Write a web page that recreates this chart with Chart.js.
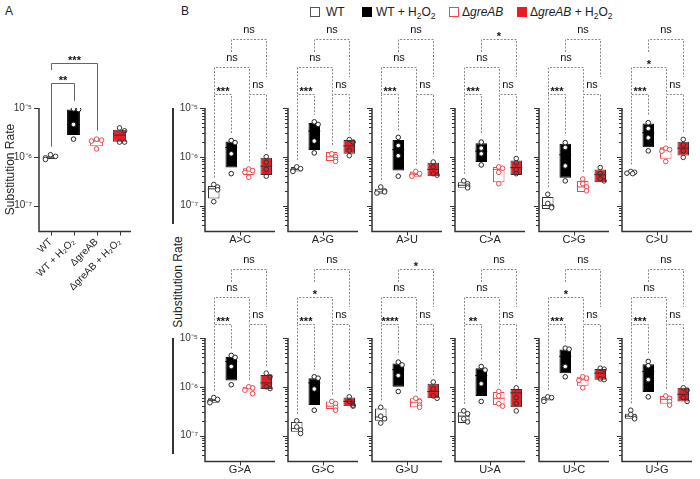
<!DOCTYPE html>
<html><head><meta charset="utf-8">
<script src="https://cdn.jsdelivr.net/npm/chart.js@4.4.1/dist/chart.umd.min.js"></script>
<style>
html,body{margin:0;padding:0;background:#fff}
body{width:700px;height:479px;position:relative;overflow:hidden;font-family:"Liberation Sans",Arial,Helvetica,sans-serif;color:#222}
canvas{position:absolute}
.t{position:absolute;white-space:nowrap;line-height:1;font-size:12px}
.sq{position:absolute;width:10px;height:10px;box-sizing:border-box}
.sb{font-size:8.5px;position:relative;top:3px}
.vbar{position:absolute;left:172px;width:2px;background:#333}
</style></head><body>
<div class="t" style="left:5px;top:5px">A</div>
<div class="t" style="left:181px;top:5px">B</div>
<div class="sq" style="left:310px;top:7px;border:1px solid #555;background:#fff"></div>
<div class="t" style="left:326px;top:6px">WT</div>
<div class="sq" style="left:362px;top:7px;background:#000"></div>
<div class="t" style="left:376px;top:6px">WT + H<span class="sb">2</span>O<span class="sb">2</span></div>
<div class="sq" style="left:449px;top:7px;border:1px solid #f0444b;background:#fff"></div>
<div class="t" style="left:462px;top:6px">Δ<i>greAB</i></div>
<div class="sq" style="left:517px;top:7px;background:#ec1c24"></div>
<div class="t" style="left:530px;top:6px">Δ<i>greAB</i> + H<span class="sb">2</span>O<span class="sb">2</span></div>
<div class="t" style="left:178px;top:282px;transform:translate(-50%,-50%) rotate(-90deg)">Substitution Rate</div>
<div class="vbar" style="top:108px;height:116px"></div>
<div class="vbar" style="top:338px;height:116px"></div>
<script>
// ---------------- DATA ----------------
const GROUPS = ['WT', 'WT + H₂O₂', 'ΔgreAB', 'ΔgreAB + H₂O₂'];
const SUBSTITUTIONS = ['A>C','A>G','A>U','C>A','C>G','C>U','G>A','G>C','G>U','U>A','U>C','U>G'];
const Y_TICK_VALUES = [1e-7, 1e-6, 1e-5];
const Y_TICK_LABELS = ['10⁻⁷', '10⁻⁶', '10⁻⁵'];

// Panel A: total substitution rate
const totalPoints = [
  [1.10e-6, 1.02e-6, 0.95e-6, 0.88e-6],
  [9.6e-6, 9.3e-6, 4.6e-6, 2.3e-6],
  [2.30e-6, 2.20e-6, 2.10e-6, 1.45e-6],
  [3.9e-6, 3.4e-6, 2.0e-6, 2.0e-6]
];
const totalBox = [[0.90e-6, 1.05e-6], [2.8e-6, 9.3e-6], [1.65e-6, 2.35e-6], [2.04e-6, 3.6e-6]];
const totalMedian = [0.98e-6, 4.6e-6, 2.1e-6, 2.78e-6];
const totalSig = ['**', '***'];

// Panel B: per substitution type
const wtPoints = [
  [0.27e-6,0.24e-6,0.21e-6,0.12e-6],[0.62e-6,0.57e-6,0.53e-6,0.50e-6],[0.24e-6,0.20e-6,0.19e-6,0.18e-6],
  [0.32e-6,0.28e-6,0.25e-6,0.23e-6],[0.17e-6,0.11e-6,0.095e-6,0.09e-6],[0.50e-6,0.48e-6,0.46e-6,0.45e-6],
  [0.60e-6,0.55e-6,0.50e-6,0.47e-6],[0.20e-6,0.15e-6,0.13e-6,0.11e-6],[0.38e-6,0.25e-6,0.22e-6,0.18e-6],
  [0.32e-6,0.28e-6,0.22e-6,0.19e-6],[0.62e-6,0.60e-6,0.55e-6,0.50e-6],[0.33e-6,0.27e-6,0.24e-6,0.22e-6]
];
const wtBox = [
  [0.14e-6,0.25e-6],[0.50e-6,0.62e-6],[0.17e-6,0.22e-6],[0.23e-6,0.30e-6],[0.085e-6,0.15e-6],[0.44e-6,0.50e-6],
  [0.47e-6,0.58e-6],[0.12e-6,0.19e-6],[0.20e-6,0.36e-6],[0.18e-6,0.30e-6],[0.52e-6,0.62e-6],[0.22e-6,0.28e-6]
];
const wtMedian = [0.22e-6,0.55e-6,0.19e-6,0.26e-6,0.10e-6,0.47e-6,0.52e-6,0.14e-6,0.24e-6,0.25e-6,0.58e-6,0.25e-6];

const h2o2Points = [
  [2.15e-6,1.95e-6,1.15e-6,0.45e-6],[5.2e-6,4.6e-6,2.1e-6,1.2e-6],[2.5e-6,1.7e-6,1.05e-6,0.40e-6],
  [2.0e-6,1.5e-6,1.15e-6,0.68e-6],[1.95e-6,1.55e-6,0.65e-6,0.32e-6],[5.0e-6,3.8e-6,2.45e-6,1.32e-6],
  [4.4e-6,4.0e-6,2.6e-6,1.1e-6],[1.6e-6,1.5e-6,0.9e-6,0.33e-6],[3.2e-6,2.8e-6,1.7e-6,0.8e-6],
  [2.6e-6,2.2e-6,1.15e-6,0.5e-6],[6.2e-6,5.9e-6,2.6e-6,1.6e-6],[3.3e-6,2.7e-6,1.4e-6,0.62e-6]
];
const h2o2Box = [
  [0.60e-6,2.05e-6],[1.38e-6,4.9e-6],[0.52e-6,2.2e-6],[0.78e-6,1.9e-6],[0.37e-6,1.85e-6],[1.57e-6,4.8e-6],
  [1.35e-6,4.1e-6],[0.42e-6,1.5e-6],[1.0e-6,3.0e-6],[0.65e-6,2.4e-6],[1.9e-6,5.8e-6],[0.78e-6,2.9e-6]
];
const h2o2Median = [1.55e-6,3.35e-6,1.4e-6,1.3e-6,1.1e-6,3.1e-6,3.3e-6,1.2e-6,2.25e-6,1.7e-6,4.2e-6,2.05e-6];

const greABPoints = [
  [0.56e-6,0.52e-6,0.48e-6,0.38e-6],[1.15e-6,1.0e-6,0.88e-6,0.8e-6],[0.50e-6,0.45e-6,0.42e-6,0.40e-6],
  [0.62e-6,0.58e-6,0.48e-6,0.28e-6],[0.35e-6,0.28e-6,0.24e-6,0.20e-6],[1.5e-6,1.4e-6,1.3e-6,0.8e-6],
  [1.0e-6,0.95e-6,0.85e-6,0.72e-6],[0.50e-6,0.45e-6,0.38e-6,0.33e-6],[0.58e-6,0.50e-6,0.42e-6,0.38e-6],
  [0.80e-6,0.65e-6,0.45e-6,0.40e-6],[1.6e-6,1.5e-6,1.35e-6,0.95e-6],[0.65e-6,0.58e-6,0.50e-6,0.42e-6]
];
const greABBox = [
  [0.42e-6,0.58e-6],[0.82e-6,1.25e-6],[0.38e-6,0.50e-6],[0.30e-6,0.62e-6],[0.19e-6,0.32e-6],[0.91e-6,1.57e-6],
  [0.80e-6,1.0e-6],[0.35e-6,0.50e-6],[0.38e-6,0.58e-6],[0.42e-6,0.78e-6],[1.05e-6,1.6e-6],[0.45e-6,0.65e-6]
];
const greABMedian = [0.52e-6,1.0e-6,0.43e-6,0.55e-6,0.24e-6,1.45e-6,0.92e-6,0.40e-6,0.48e-6,0.58e-6,1.38e-6,0.55e-6];

const greABH2O2Points = [
  [1.0e-6,0.77e-6,0.55e-6,0.40e-6],[2.25e-6,2.0e-6,1.35e-6,1.05e-6],[0.78e-6,0.62e-6,0.45e-6,0.42e-6],
  [0.92e-6,0.75e-6,0.55e-6,0.45e-6],[0.60e-6,0.45e-6,0.35e-6,0.32e-6],[2.27e-6,1.75e-6,1.32e-6,0.97e-6],
  [1.9e-6,1.6e-6,1.0e-6,0.92e-6],[0.62e-6,0.50e-6,0.42e-6,0.40e-6],[1.25e-6,0.9e-6,0.65e-6,0.58e-6],
  [0.95e-6,0.60e-6,0.45e-6,0.32e-6],[2.4e-6,2.3e-6,1.45e-6,1.4e-6],[0.95e-6,0.85e-6,0.60e-6,0.50e-6]
];
const greABH2O2Box = [
  [0.42e-6,0.95e-6],[1.15e-6,2.2e-6],[0.40e-6,0.75e-6],[0.42e-6,0.84e-6],[0.30e-6,0.55e-6],[1.06e-6,2.04e-6],
  [0.90e-6,1.75e-6],[0.40e-6,0.60e-6],[0.58e-6,1.15e-6],[0.38e-6,0.90e-6],[1.4e-6,2.3e-6],[0.50e-6,0.95e-6]
];
const greABH2O2Median = [0.64e-6,1.67e-6,0.55e-6,0.60e-6,0.43e-6,1.5e-6,1.2e-6,0.50e-6,0.80e-6,0.75e-6,1.9e-6,0.70e-6];

const sigWTvsH2O2 = ['***','***','***','***','***','***','***','***','****','**','***','***'];
const sigGreABvsGreABH2O2 = ['ns','ns','ns','ns','ns','ns','ns','ns','ns','ns','ns','ns'];
const sigWTvsGreAB = ['ns','ns','ns','ns','ns','*','ns','*','ns','ns','*','ns'];
const sigH2O2vsGreABH2O2 = ['ns','ns','ns','*','ns','ns','ns','ns','*','ns','ns','ns'];

// ---------------- STYLE / LAYOUT ----------------
const FONT = '"Liberation Sans", Arial, Helvetica, sans-serif';
Chart.defaults.font.family = FONT;
const AXIS_COLOR = '#333333';
const AXIS_WIDTH = 1.5;
const STYLE = [
  {fill:'#ffffff', border:'#333333', pt:'#ffffff', ptBorder:'#333333', med:'#333333'},
  {fill:'#000000', border:'#000000', pt:'#ffffff', ptBorder:'#222222', med:'#000000'},
  {fill:'#ffffff', border:'#f0444b', pt:'#ffffff', ptBorder:'#f0444b', med:'#f0444b'},
  {fill:'#ec1c24', border:'#333333', pt:'rgba(0,0,0,0)', ptBorder:'#333333', med:'#333333'}
];
const Y_MIN = 3.3e-8, Y_MAX = 1e-5;
const MINOR_TICKS = [];
[1e-8, 1e-7, 1e-6].forEach(d => { for (let k = 2; k <= 9; k++) { const v = k * d; if (v > Y_MIN) MINOR_TICKS.push(v); } });
const isMajor = v => Y_TICK_VALUES.some(m => Math.abs(v / m - 1) < 1e-6);

const COL_X = [205, 288, 372, 455, 539, 622];
const ROW_TOP = [108, 338];

function spreadOffsets(vals) {
  const pattern = [0, 0.22, -0.22, 0.11];
  return vals.map((v, j) => {
    let k = 0;
    for (let i = 0; i < j; i++) if (Math.abs(Math.log10(vals[i] / v)) < 0.08) k++;
    return pattern[k];
  });
}

// axis lines and tick marks, placed from the chart's own scales
const axisPlugin = {
  id: 'axisMarks',
  beforeDatasetsDraw(chart) {
    const ctx = chart.ctx, {left, right, top, bottom} = chart.chartArea;
    const xs = chart.scales.x, ys = chart.scales.y;
    const L = Math.round(left), B = Math.round(bottom) + 0.5;
    ctx.save();
    ctx.strokeStyle = AXIS_COLOR; ctx.lineWidth = AXIS_WIDTH; ctx.setLineDash([]); ctx.lineCap = 'butt';
    ctx.beginPath();
    ctx.moveTo(L, Math.round(top)); ctx.lineTo(L, B);
    ctx.lineTo(Math.round(right), B);
    ctx.stroke();
    ctx.lineWidth = 1;
    ctx.beginPath();
    ys.ticks.forEach(t => {
      const yy = Math.round(ys.getPixelForValue(t.value)) + 0.5;
      const len = isMajor(t.value) ? 5 : 3;
      ctx.moveTo(L - len, yy); ctx.lineTo(L, yy);
    });
    xs.ticks.forEach(t => {
      const xx = Math.round(xs.getPixelForValue(t.value)) + 0.5;
      ctx.moveTo(xx, B); ctx.lineTo(xx, B + 4);
    });
    ctx.stroke();
    ctx.restore();
  }
};

const sigPlugin = {
  id: 'sig',
  afterDatasetsDraw(chart, args, o) {
    if (!o || !o.pairs) return;
    const ctx = chart.ctx, top = chart.chartArea.top;
    const xs = chart.scales.x, ys = chart.scales.y;
    const X = g => Math.round(xs.getPixelForValue(g)) + 0.5;
    const dataEnd = g => ys.getPixelForValue(o.tops[g]) - o.gap;
    ctx.save();
    ctx.lineWidth = 1; ctx.strokeStyle = o.color; ctx.setLineDash(o.dash);
    o.pairs.forEach(p => {
      const y = Math.round(top - p.h) + 0.5;
      const ya = p.endA === 'data' ? dataEnd(p.a) : top - p.endA;
      const yb = p.endB === 'data' ? dataEnd(p.b) : top - p.endB;
      const xa = X(p.a), xb = X(p.b);
      ctx.beginPath(); ctx.moveTo(xa, ya); ctx.lineTo(xa, y); ctx.lineTo(xb, y); ctx.lineTo(xb, yb); ctx.stroke();
    });
    ctx.setLineDash([]);
    ctx.fillStyle = '#111'; ctx.textAlign = 'center'; ctx.textBaseline = 'alphabetic';
    o.pairs.forEach(p => {
      const y = top - p.h, xm = (X(p.a) + X(p.b)) / 2;
      const star = p.text.indexOf('*') >= 0;
      ctx.font = (star ? 'bold ' : '') + '11px ' + FONT;
      ctx.fillText(p.text, xm, star ? y + 1 : y - 6);
    });
    ctx.restore();
  }
};

function addCanvas(left, top, w, h) {
  const c = document.createElement('canvas');
  c.width = w; c.height = h;
  c.style.left = left + 'px'; c.style.top = top + 'px';
  c.style.width = w + 'px'; c.style.height = h + 'px';
  document.body.appendChild(c);
  return c;
}

function makePanel(cv, cfg) {
  const tops = cfg.points.map((p, g) => Math.max(cfg.boxes[g][1], ...p));
  const datasets = [{
    type: 'bar', data: cfg.boxes.map((b, g) => ({x: g, y: b})), order: 3,
    backgroundColor: STYLE.map(s => s.fill), borderColor: STYLE.map(s => s.border),
    borderWidth: 1, borderSkipped: false, grouped: false,
    barPercentage: cfg.barPct, categoryPercentage: 1
  }, {
    type: 'scatter', data: cfg.medians.map((m, g) => ({x: g, y: m})), order: 2,
    showLine: false, pointStyle: 'line', pointRadius: cfg.medR, pointBorderWidth: 1,
    pointBorderColor: STYLE.map(s => s.med), borderColor: STYLE.map(s => s.med)
  }];
  cfg.points.forEach((vals, g) => {
    const off = spreadOffsets(vals);
    datasets.push({
      type: 'scatter', data: vals.map((v, j) => ({x: g + off[j], y: v})), order: 1,
      showLine: false, pointRadius: 2.3, pointBorderWidth: 1,
      pointBackgroundColor: STYLE[g].pt, pointBorderColor: STYLE[g].ptBorder
    });
  });

  const x = {
    type: 'linear', position: 'bottom', min: -0.5, max: 3.5, offset: false,
    afterFit: s => { s.height = cfg.xh; },
    border: {display: false},
    grid: {display: false, offset: false, drawOnChartArea: false, drawTicks: false}
  };
  if (cfg.isA) {
    x.afterBuildTicks = s => { s.ticks = GROUPS.map((_, g) => ({value: g})); };
    x.ticks = {autoSkip: false, minRotation: 45, maxRotation: 45, font: {size: 10}, color: '#222', padding: 5,
               callback: (v, i) => GROUPS[i]};
  } else {
    x.afterBuildTicks = s => { s.ticks = [{value: 1.5}]; };
    x.ticks = {display: false};
    x.title = {display: true, text: cfg.name, font: {size: 11}, color: '#222', padding: {top: 0, bottom: 3}};
  }
  const yTicks = cfg.isA ? Y_TICK_VALUES : Y_TICK_VALUES.concat(MINOR_TICKS).sort((a, b) => a - b);
  const y = {
    type: 'logarithmic', position: 'left', min: Y_MIN, max: Y_MAX,
    afterFit: s => { s.width = cfg.yw; },
    afterBuildTicks: s => { s.ticks = yTicks.map(v => ({value: v})); },
    ticks: {display: cfg.showY, autoSkip: false, font: {size: 10}, color: '#333', padding: 7,
            callback: v => { const k = Y_TICK_VALUES.findIndex(m => Math.abs(v / m - 1) < 1e-6); return k >= 0 ? Y_TICK_LABELS[k] : ''; }},
    grid: {display: false, drawOnChartArea: false, drawTicks: false},
    border: {display: false},
    title: {display: !!cfg.yTitle, text: cfg.yTitle || '', font: {size: 12}, color: '#222', padding: {top: 3, bottom: 0}}
  };

  return new Chart(cv, {
    type: 'bar',
    data: {labels: GROUPS, datasets},
    options: {
      responsive: false, animation: false, devicePixelRatio: 1, events: [],
      layout: {padding: cfg.padding},
      plugins: {legend: {display: false}, tooltip: {enabled: false},
                sig: {pairs: cfg.pairs, tops, gap: cfg.gap, color: cfg.sigColor, dash: cfg.dash}},
      scales: {x, y}
    },
    plugins: [axisPlugin, sigPlugin]
  });
}

// Panel A
makePanel(addCanvas(0, 18, 175, 300), {
  isA: true, boxes: totalBox, medians: totalMedian, points: totalPoints,
  barPct: 0.56, medR: 6.5, xh: 87, yw: 39, showY: true, yTitle: 'Substitution Rate',
  padding: {top: 90, left: 0, right: 44, bottom: 0},
  gap: 8, sigColor: '#666', dash: [],
  pairs: [
    {a: 0, b: 1, h: 25, text: totalSig[0], endA: 'data', endB: 'data'},
    {a: 0, b: 2, h: 45, text: totalSig[1], endA: 38, endB: 'data'}
  ]
});

// Panel B
SUBSTITUTIONS.forEach((name, i) => {
  const r = Math.floor(i / 6), c = i % 6;
  const ax = COL_X[c], top = ROW_TOP[r];
  makePanel(addCanvas(ax - 40, top - 90, 117, 232), {
    isA: false, name,
    boxes: [wtBox[i], h2o2Box[i], greABBox[i], greABH2O2Box[i]],
    medians: [wtMedian[i], h2o2Median[i], greABMedian[i], greABH2O2Median[i]],
    points: [wtPoints[i], h2o2Points[i], greABPoints[i], greABH2O2Points[i]],
    barPct: 0.66, medR: 6, xh: 19, yw: 40, showY: c === 0,
    padding: {top: 90, left: 0, right: 1, bottom: 0},
    gap: 7, sigColor: '#888', dash: [2, 1.5],
    pairs: [
      {a: 0, b: 1, h: 14, text: sigWTvsH2O2[i], endA: 'data', endB: 'data'},
      {a: 2, b: 3, h: 14, text: sigGreABvsGreABH2O2[i], endA: 'data', endB: 'data'},
      {a: 0, b: 2, h: 41, text: sigWTvsGreAB[i], endA: 14, endB: 14},
      {a: 1, b: 3, h: 69, text: sigH2O2vsGreABH2O2[i], endA: 56, endB: 31}
    ]
  });
});
</script>
</body></html>
